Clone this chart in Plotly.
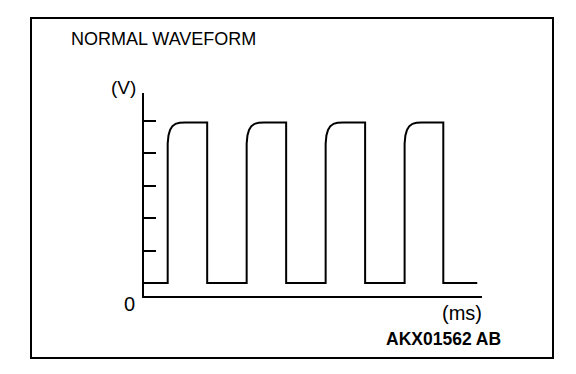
import plotly.graph_objects as go

# Waveform (time in arbitrary ms units, voltage in tick units)
time_ms = [0.0, 3.0, 3.0, 3.1, 3.3, 3.6, 4.0, 4.5, 5.2, 8.0, 8.0,
           13.0, 13.0, 13.1, 13.3, 13.6, 14.0, 14.5, 15.2, 18.0, 18.0,
           23.0, 23.0, 23.1, 23.3, 23.6, 24.0, 24.5, 25.2, 28.0, 28.0,
           33.0, 33.0, 33.1, 33.3, 33.6, 34.0, 34.5, 35.2, 37.9, 37.9,
           42.2]
voltage = [0.0, 0.0, 4.3, 4.55, 4.72, 4.84, 4.91, 4.94, 4.95, 4.95, 0.0,
           0.0, 4.3, 4.55, 4.72, 4.84, 4.91, 4.94, 4.95, 4.95, 0.0,
           0.0, 4.3, 4.55, 4.72, 4.84, 4.91, 4.94, 4.95, 4.95, 0.0,
           0.0, 4.3, 4.55, 4.72, 4.84, 4.91, 4.94, 4.95, 4.95, 0.0,
           0.0]
y_ticks = [1, 2, 3, 4, 5]

title_text = "NORMAL WAVEFORM"
y_unit = "(V)"
x_unit = "(ms)"
zero_label = "0"
code_text = "AKX01562 AB"

# page body has an 8px margin; the figure is sized to fit inside the window
OFF = 8
W, H = 560, 358
PLOT_X0, PLOT_X1, PLOT_Y0, PLOT_Y1 = 144, 482, 93, 296  # page pixels
L = PLOT_X0 - OFF
T = PLOT_Y0 - OFF
R = W - (PLOT_X1 - OFF)
B = H - (PLOT_Y1 - OFF)
PW, PH = W - L - R, H - T - B


def px(x):
    return (x - OFF - L) / PW


def py(y):
    return (H - B - (y - OFF)) / PH


FONT = "Liberation Sans, Arial, sans-serif"

fig = go.Figure()
fig.add_trace(go.Scatter(x=time_ms, y=voltage, mode="lines",
                         line=dict(color="black", width=2),
                         hoverinfo="skip", showlegend=False))

fig.update_layout(
    width=W, height=H,
    margin=dict(l=L, r=R, t=T, b=B, pad=0),
    paper_bgcolor="white", plot_bgcolor="white",
    showlegend=False,
    xaxis=dict(range=[0, 42.8], showgrid=False, zeroline=False,
               showline=True, linecolor="black", linewidth=2,
               ticks="", showticklabels=False, fixedrange=True),
    yaxis=dict(range=[-0.4, 5.86], showgrid=False, zeroline=False,
               showline=True, linecolor="black", linewidth=2,
               tickmode="array", tickvals=y_ticks, ticks="inside",
               ticklen=12, tickwidth=2, tickcolor="black",
               showticklabels=False, fixedrange=True),
    shapes=[dict(type="rect", xref="paper", yref="paper",
                 x0=px(31), x1=px(553), y0=py(358), y1=py(18),
                 line=dict(color="black", width=2), fillcolor="rgba(0,0,0,0)")],
)

annos = [
    dict(text=title_text, x=px(69), y=py(39), xanchor="left", yanchor="middle",
         font=dict(size=18, family=FONT, color="black")),
    dict(text=y_unit, x=px(123), y=py(87), xanchor="center", yanchor="middle",
         font=dict(size=19, family=FONT, color="black")),
    dict(text=zero_label, x=px(129), y=py(304), xanchor="center", yanchor="middle",
         font=dict(size=20, family=FONT, color="black")),
    dict(text=x_unit, x=px(462), y=py(313), xanchor="center", yanchor="middle",
         font=dict(size=20, family=FONT, color="black")),
    dict(text="<b>" + code_text + "</b>", x=px(503), y=py(339), xanchor="right",
         yanchor="middle", font=dict(size=17.5, family=FONT, color="black")),
]
for a in annos:
    fig.add_annotation(xref="paper", yref="paper", showarrow=False, **a)

fig.write_html("out.html", config={"displayModeBar": False})
